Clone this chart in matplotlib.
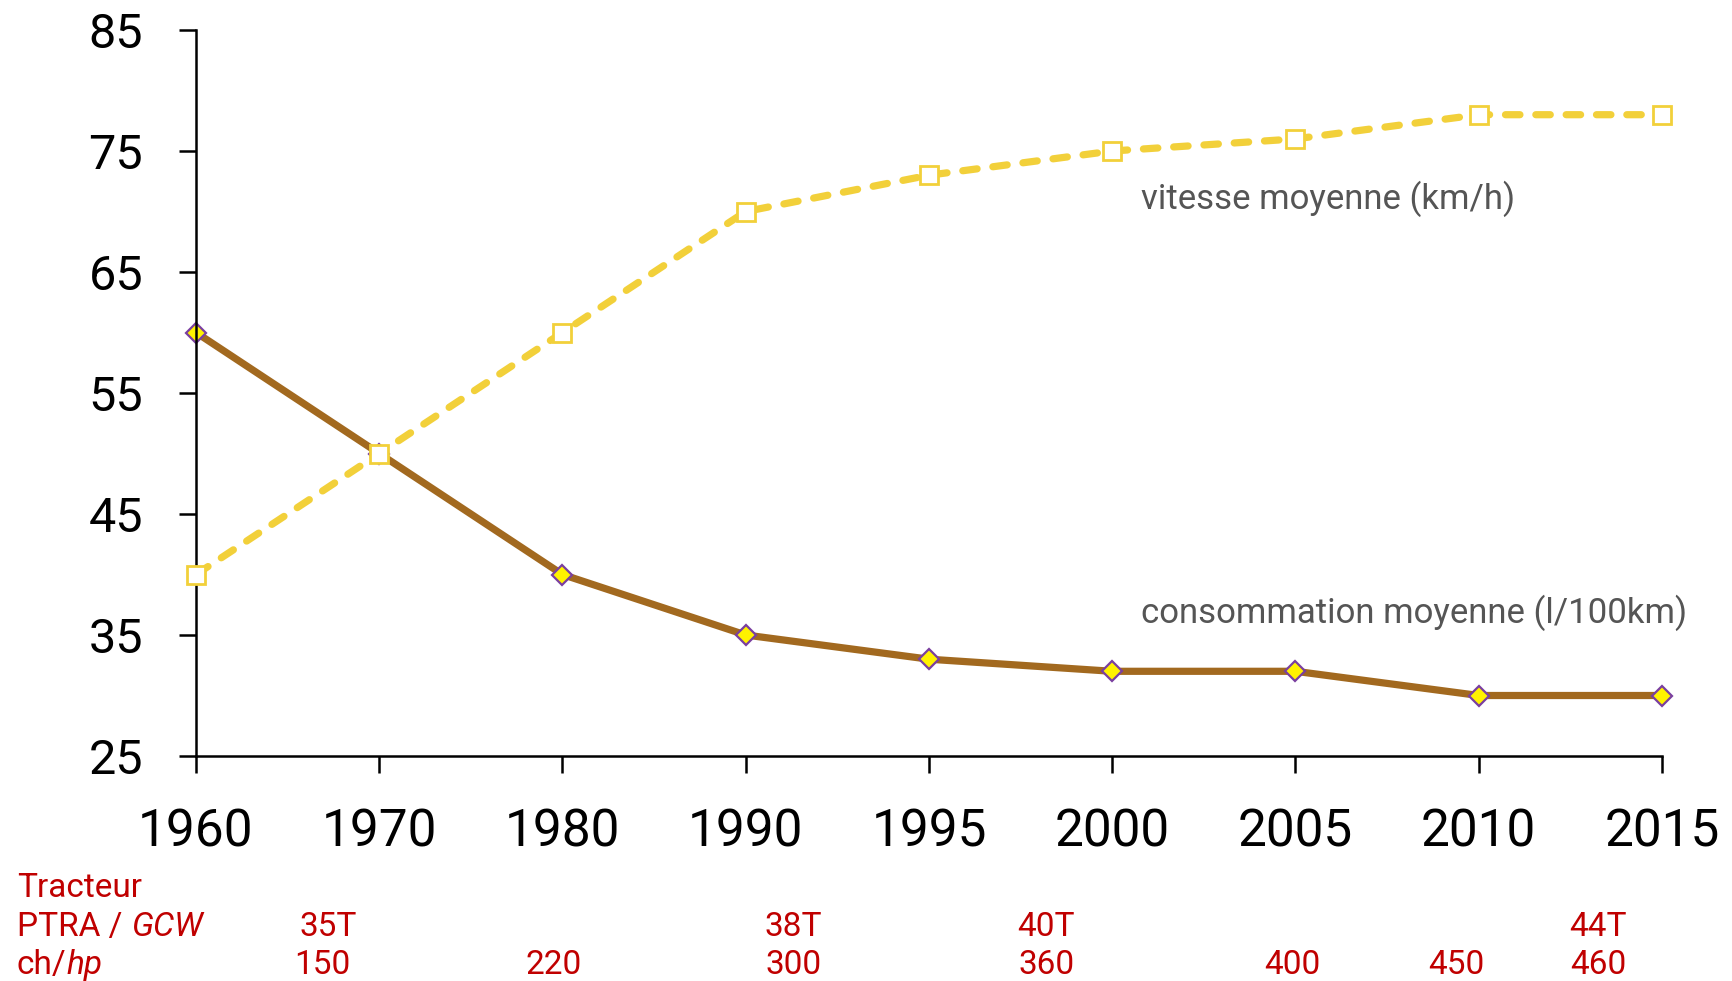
import matplotlib
matplotlib.use("Agg")
import matplotlib.pyplot as plt
import matplotlib.transforms as mtransforms

plt.rcParams['font.family'] = ['Roboto', 'DejaVu Sans']

years = ["1960", "1970", "1980", "1990", "1995", "2000", "2005", "2010", "2015"]
speed = [40, 50, 60, 70, 73, 75, 76, 78, 78]
consumption = [60, 50, 40, 35, 33, 32, 32, 30, 30]
yticks = [25, 35, 45, 55, 65, 75, 85]

speed_label = "vitesse moyenne (km/h)"
cons_label = "consommation moyenne (l/100km)"

gcw_labels = ["35T", "38T", "40T", "44T"]
hp_labels = ["150", "220", "300", "360", "400", "450", "460"]
# horizontal placement of the annotation values (in category units)
gcw_x = [0.72, 3.26, 4.64, 7.65]
hp_x = [0.69, 1.95, 3.26, 4.64, 5.98, 6.88, 7.65]

W, H = 1733, 981
fig = plt.figure(figsize=(W / 100, H / 100), dpi=100)
ax = fig.add_axes([196 / W, 1 - 756 / H, (1662 - 196) / W, (756 - 30) / H])

x = list(range(len(years)))
BROWN = "#A2691F"
YELLOW = "#F2D03A"
PURPLE = "#7A3FA0"
RED = "#C00000"
GRAY = "#555555"

ax.plot(x, consumption, color=BROWN, lw=5.2, solid_capstyle='round', zorder=2,
        marker='D', ms=10.5, mfc="#FFF200", mec=PURPLE, mew=1.6, clip_on=False)
ax.plot(x, speed, color=YELLOW, lw=5.2, ls=(0, (2.0, 2.2)), dash_capstyle='round',
        zorder=3, marker='s', ms=13, mfc="white", mec=YELLOW, mew=2, clip_on=False)

ax.set_xlim(0, 8)
ax.set_ylim(25, 85)
ax.set_xticks(x)
ax.set_xticklabels(years)
ax.set_yticks(yticks)
for s in ['top', 'right']:
    ax.spines[s].set_visible(False)
for s in ['left', 'bottom']:
    ax.spines[s].set_linewidth(1.8)
    ax.spines[s].set_color('black')
ax.tick_params(axis='both', direction='out', length=12, width=1.8, colors='black')
ax.tick_params(axis='x', labelsize=37, pad=25)
ax.tick_params(axis='y', labelsize=35, pad=26)

ax.text(1141 / W, 1 - 199 / H, speed_label, transform=fig.transFigure, fontsize=25,
        color=GRAY, ha='left', va='center')
ax.text(1141 / W, 1 - 613 / H, cons_label, transform=fig.transFigure, fontsize=25,
        color=GRAY, ha='left', va='center')

fs = 24
fig.text(17 / W, 1 - 897 / H, "Tracteur", color=RED, fontsize=fs,
         ha='left', va='baseline')
t1 = fig.text(17 / W, 1 - 936 / H, "PTRA / ", color=RED, fontsize=fs,
              ha='left', va='baseline')
t2 = fig.text(17 / W, 1 - 974 / H, "ch/", color=RED, fontsize=fs,
              ha='left', va='baseline')
fig.canvas.draw()
r = fig.canvas.get_renderer()
bb1 = t1.get_window_extent(r)
bb2 = t2.get_window_extent(r)
fig.text(bb1.x1 / W, 1 - 936 / H, "GCW", color=RED, fontsize=fs,
         style='italic', ha='left', va='baseline')
fig.text(bb2.x1 / W, 1 - 974 / H, "hp", color=RED, fontsize=fs,
         style='italic', ha='left', va='baseline')

blend = mtransforms.blended_transform_factory(ax.transData, fig.transFigure)
for lab, xp in zip(gcw_labels, gcw_x):
    fig.text(xp, 1 - 936 / H, lab, color=RED, fontsize=fs,
             ha='center', va='baseline', transform=blend)
for lab, xp in zip(hp_labels, hp_x):
    fig.text(xp, 1 - 974 / H, lab, color=RED, fontsize=fs,
             ha='center', va='baseline', transform=blend)

fig.savefig("out.png", dpi=100, facecolor='white')
